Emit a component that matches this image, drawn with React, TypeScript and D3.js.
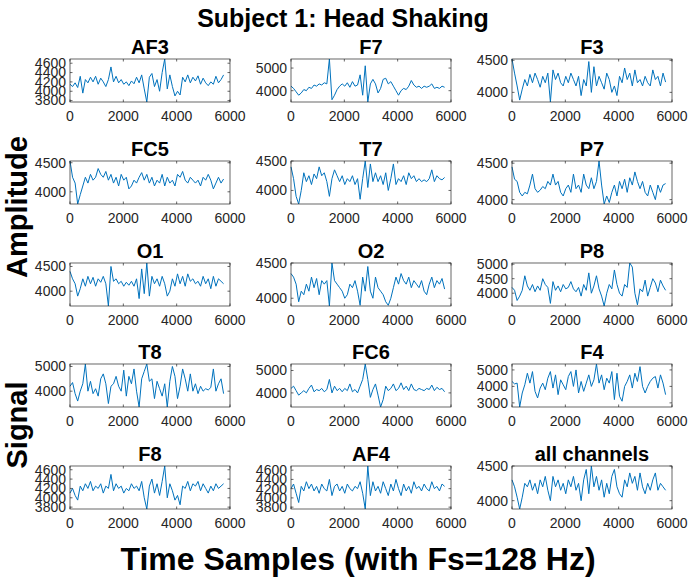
import React from "react";
import * as d3 from "d3";

// ---------- data ----------
const channelNames = ["AF3", "F7", "F3", "FC5", "T7", "P7", "O1", "O2", "P8", "T8", "FC6", "F4", "F8", "AF4", "all channels"];
const xTicks = [0, 2000, 4000, 6000];
const SAMPLE_STEP = 96; // samples between stored readings

const af3 = [4150,4100,4180,4080,4320,3960,4250,4180,4300,4200,4320,4150,4280,4200,4100,4250,4520,4200,4320,4180,4250,4150,4200,4120,4220,4160,4300,4180,4350,4050,3770,4300,4380,4100,4250,4000,4400,4690,4050,4350,4100,3900,4000,3920,4300,4200,4350,4180,4300,4220,4330,4150,4280,4180,4120,4200,4150,4320,4180,4250,4350];
const f7 = [4200,4100,3950,3800,3900,4050,4000,4150,4100,4250,4200,4300,4250,4350,4300,5400,3600,3800,4050,4200,4300,4200,4350,4150,4400,4200,4250,4700,3800,5100,3500,4300,4500,4300,3900,4100,4500,4550,4300,4400,4200,4000,3800,4000,4100,4050,4200,4450,4250,4150,4200,4100,4200,4150,4200,4300,4100,4150,4100,4200,4150];
const f3 = [4520,4300,4100,3880,4050,4200,4100,4280,4150,4300,4200,4080,4250,4150,4300,3850,4350,4200,4300,4150,4100,4250,4150,4300,4200,4100,4250,3950,4200,4100,4480,4000,4400,4100,4250,4150,4050,4300,4200,4000,4100,3950,4250,4150,4380,4200,4300,4100,4350,4150,4200,4100,4250,4150,4100,4350,4200,4250,4100,4300,4160];
const fc5 = [4530,4250,4150,3790,3950,4100,4250,4150,4300,4200,4250,4400,4300,4250,4350,4200,4300,4150,4250,4100,4300,4200,4250,4050,4100,4200,4150,4250,4330,4200,4300,4150,4250,4100,4200,4150,4300,4100,4250,4150,4200,4100,4300,4250,4350,4200,4150,4250,4200,4150,4200,4100,4250,4200,4300,4200,4050,4150,4250,4150,4220];
const t7 = [4400,4200,3900,3770,4000,4300,4150,4250,4100,4280,4200,4400,4250,4300,4150,3900,4200,4350,4250,4150,4250,4100,4200,4150,4250,4100,4200,3850,4200,4500,4050,4450,4150,4300,4150,4250,4100,4300,4000,4200,4450,4100,4200,4150,4250,4100,4300,4200,4250,4150,4200,4150,4180,4150,4200,4350,4150,4250,4200,4180,4220];
const p7 = [4450,4280,4250,4100,4050,4100,4080,4200,4350,4150,4100,4130,4180,4150,4250,4200,4350,4200,4250,4100,4050,4150,4200,4100,4350,4150,4200,4100,4350,4200,4150,4300,4150,4250,4530,4200,3940,4050,3960,4100,4200,4050,4250,4150,4280,4100,4300,4200,4380,4250,4150,4250,4100,4050,4200,4100,4000,4200,4100,4200,4220];
const o1 = [4400,4250,4150,3900,4050,4250,4100,4300,4150,4280,4100,4250,4180,4300,4150,3700,4500,4200,4250,4150,4200,4100,4180,4120,4200,4100,4250,3850,4450,3950,4570,3900,4300,4150,4250,4100,4300,4150,3900,4000,4250,4100,4350,4150,4300,4100,4350,4200,4250,4150,4200,4100,4300,4150,4250,4050,4300,4100,4250,4200,4150];
const o2 = [4350,4300,4200,3950,4100,4050,4200,4100,4300,4150,4280,4050,4250,4200,4250,3890,4500,4250,4200,4150,4100,4000,4050,4200,4150,4250,4100,3900,4300,4100,4450,4100,4000,4300,4150,4100,4050,3950,3900,4000,4150,4300,4200,4350,4250,4200,4300,4150,4250,4200,4150,4250,4100,4050,4200,4300,4150,4250,4200,4280,4130];
const p8 = [4200,4100,3750,3900,4100,4600,4250,4100,4300,4050,4250,4100,4500,4300,4200,3650,4400,4100,4250,4050,4300,4150,4200,4400,4150,4050,4200,3900,4300,4100,4700,4000,4250,4600,4150,3900,3560,4000,4300,4150,4800,4300,4000,3900,4300,4200,5040,4900,4000,3600,4150,4050,4450,3900,4200,4500,4350,4050,4450,4250,4100];
const t8 = [4200,4350,3900,3600,4000,4300,5100,4000,4400,3900,4100,3800,4500,4700,4300,3500,4200,4300,4600,4200,4000,4850,3800,4600,4300,4900,4000,3360,4500,4800,5100,4400,4500,3700,4400,4100,3800,4300,3360,4400,5000,4600,3700,4200,4900,4500,4000,4700,4000,4300,3900,4200,4000,4100,4050,4150,4900,4000,4300,4500,3900];
const fc6 = [4200,4300,4100,3900,4000,4100,4000,4200,4350,4050,4150,4100,4200,4050,4150,4600,4000,4300,4100,4200,4050,4200,4100,4400,4050,4150,4000,4300,4600,5290,4600,3800,4150,4400,3900,3370,3700,4300,4100,4200,4400,4100,4200,4450,4150,4300,4100,4400,4150,4100,4200,4150,4100,4200,4150,4350,4100,4250,4150,4200,4050];
const f4 = [4300,4150,4200,2750,3600,4100,4800,4200,4900,3700,3300,3900,4200,3800,4500,4900,3900,4700,3500,4400,4100,3800,4600,4900,4000,5000,3600,4300,3700,4200,4700,4000,4400,5360,4200,4700,3800,4500,4200,4900,3200,4800,3400,3100,4000,4300,4700,3900,4800,4300,5200,4000,3600,4000,4300,4500,4600,3900,4700,4200,3500];
const f8 = [4100,4200,4050,3950,4250,4150,4300,4200,4350,4150,4250,4200,4300,4100,4250,4200,4500,4150,4300,4200,4250,4100,4200,4150,4300,4200,4250,4150,4350,4000,3760,4250,4400,4100,4300,4050,4350,4680,4000,4300,4150,3950,4050,3850,4250,4200,4350,4150,4300,4250,4350,4150,4300,4200,4100,4250,4150,4300,4200,4250,4300];
const af4 = [4200,4300,4100,3900,4250,4150,4350,4200,4300,4150,4250,4100,4300,4200,4150,4400,4050,4250,4300,4150,4250,4100,4300,4200,4150,4250,4200,4350,4100,3760,4690,4050,4350,4150,4250,4100,4350,4200,4050,4300,4150,4400,4200,4050,4300,4150,4250,4100,4350,4200,4250,4150,4300,4200,4150,4350,4200,4250,4150,4300,4250];
const allCh = [4300,4200,4050,3880,4050,4250,4200,4300,4150,4250,4100,4300,4200,4350,4150,4000,4350,4200,4300,4150,4250,4100,4300,4200,4350,4150,4250,4000,4300,4450,4100,4500,4200,4350,4150,4300,4050,4250,4100,4350,4450,4200,4100,4050,4300,4200,4400,4250,4350,4150,4400,4200,4100,4250,4150,4300,4400,4150,4250,4200,4150];

const series = [af3, f7, f3, fc5, t7, p7, o1, o2, p8, t8, fc6, f4, f8, af4, allCh];

const yTicksList = [
  [3800, 4000, 4200, 4400, 4600],
  [4000, 5000],
  [4000, 4500],
  [4000, 4500],
  [4000, 4500],
  [4000, 4500],
  [4000, 4500],
  [4000, 4500],
  [4000, 4500, 5000],
  [4000, 5000],
  [4000, 5000],
  [3000, 4000, 5000],
  [3800, 4000, 4200, 4400, 4600],
  [3800, 4000, 4200, 4400, 4600],
  [4000, 4500],
];

// ---------- layout ----------
const W = 694;
const H = 581;
const colX = [70, 291, 512];
const rowY = [59, 161, 263, 364, 466];
const PW = 160;
const PH = 43;
const AX = "#262626";
const LINE = "#0072BD";
const FONT = "'Liberation Sans', Arial, Helvetica, sans-serif";

function Panel({ idx }: { idx: number }) {
  const col = idx % 3;
  const row = Math.floor(idx / 3);
  const x0 = colX[col];
  const y0 = rowY[row];
  const vals = series[idx];
  const ext = d3.extent(vals) as [number, number];
  const x = d3.scaleLinear().domain([0, 6000]).range([x0, x0 + PW]);
  const y = d3.scaleLinear().domain(ext).range([y0 + PH, y0]);
  const line = d3
    .line<number>()
    .x((_, j) => x(j * SAMPLE_STEP))
    .y((d) => y(d));
  const yt = yTicksList[idx].filter((t) => t >= ext[0] && t <= ext[1]);
  const tl = 2.5;
  return (
    <g>
      <text x={x0 + PW / 2} y={y0 - 5} textAnchor="middle" fontFamily={FONT} fontWeight="bold" fontSize={20} fill="#000">
        {channelNames[idx]}
      </text>
      <path d={line(vals) || ""} fill="none" stroke={LINE} strokeWidth={1} strokeLinejoin="round" />
      <rect x={x0} y={y0} width={PW} height={PH} fill="none" stroke={AX} strokeWidth={0.7} />
      {xTicks.map((t) => (
        <g key={"x" + t}>
          <line x1={x(t)} x2={x(t)} y1={y0 + PH} y2={y0 + PH - tl} stroke={AX} strokeWidth={0.7} />
          <line x1={x(t)} x2={x(t)} y1={y0} y2={y0 + tl} stroke={AX} strokeWidth={0.7} />
          <text x={x(t)} y={y0 + PH + 19} textAnchor="middle" fontFamily={FONT} fontSize={14} fill={AX}>
            {t}
          </text>
        </g>
      ))}
      {yt.map((t) => (
        <g key={"y" + t}>
          <line x1={x0} x2={x0 + tl} y1={y(t)} y2={y(t)} stroke={AX} strokeWidth={0.7} />
          <line x1={x0 + PW} x2={x0 + PW - tl} y1={y(t)} y2={y(t)} stroke={AX} strokeWidth={0.7} />
          <text x={x0 - 4} y={y(t)} dy="0.35em" textAnchor="end" fontFamily={FONT} fontSize={14} fill={AX}>
            {t}
          </text>
        </g>
      ))}
    </g>
  );
}

export default function App() {
  return (
    <svg width={W} height={H} style={{ position: "absolute", left: 0, top: 0, background: "#fff" }}>
      <rect x={0} y={0} width={W} height={H} fill="#fff" />
      <text x={343} y={27} textAnchor="middle" fontFamily={FONT} fontWeight="bold" fontSize={25} fill="#000">
        Subject 1: Head Shaking
      </text>
      {series.map((_, i) => (
        <Panel key={i} idx={i} />
      ))}
      <text x={358} y={570} textAnchor="middle" fontFamily={FONT} fontWeight="bold" fontSize={32} fill="#000">
        Time Samples (with Fs=128 Hz)
      </text>
      <text transform="translate(27,207) rotate(-90)" textAnchor="middle" fontFamily={FONT} fontWeight="bold" fontSize={29} fill="#000">
        Amplitude
      </text>
      <text transform="translate(27,425) rotate(-90)" textAnchor="middle" fontFamily={FONT} fontWeight="bold" fontSize={29} fill="#000">
        Signal
      </text>
    </svg>
  );
}
